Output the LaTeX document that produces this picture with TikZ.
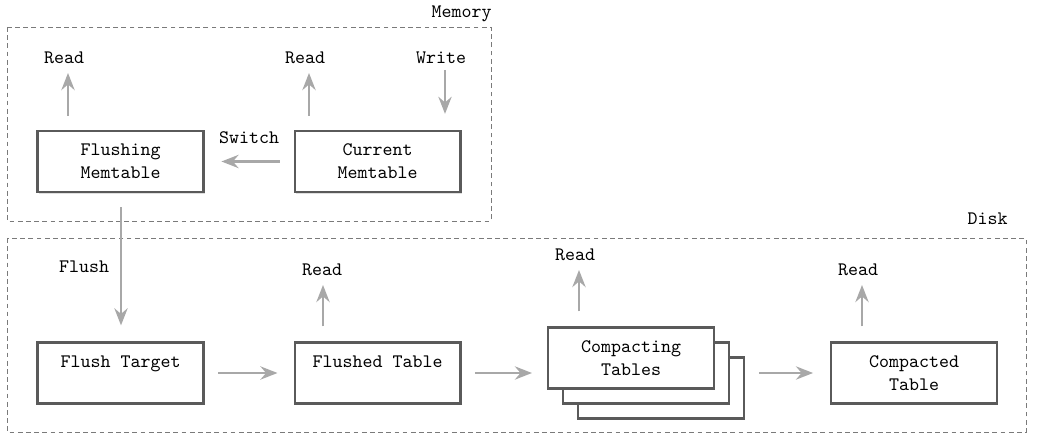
\documentclass[tikz,border=0pt]{standalone}
\usetikzlibrary{arrows.meta,shadows}
\definecolor{boxgray}{HTML}{5A5A5A}
\definecolor{arrgray}{HTML}{A8A8A8}
\definecolor{regiongray}{HTML}{7A7A7A}
\begin{document}
\begin{tikzpicture}[x=0.525pt,y=-0.525pt,
  font=\ttfamily,
  box/.style={draw=boxgray, line width=1.2pt, fill=white, minimum width=87pt, minimum height=32pt, align=center, inner sep=0pt,
    drop shadow={shadow xshift=0.8pt, shadow yshift=-0.9pt, opacity=0.25}},
  arr/.style={draw=arrgray, line width=1.1pt, -{Stealth[length=9pt,width=7pt,inset=3pt]}},
  region/.style={draw=regiongray, line width=0.5pt, dash pattern=on 2.5pt off 1.8pt},
  lbl/.style={inner sep=0pt}]
\useasboundingbox (0,0) rectangle (1050,446);

% regions
\draw[region] (7,27) rectangle (491,221);
\draw[region] (7,238) rectangle (1026,432);
\node[lbl, anchor=east] (memlbl) at (492,14) {Memory};
\node[lbl, anchor=east] (disklbl) at (1008,219) {Disk};

% memory nodes
\node[box] (fm) at (120.5,161.5) {Flushing\\Memtable};
\node[box] (cm) at (377.5,161.5) {Current\\Memtable};

% disk nodes
\node[box] (ft) at (120.5,373) {Flush Target\\\mbox{}};
\node[box] (fd) at (377.5,373) {Flushed Table\\\mbox{}};
\node[box] (ct3) at (661,388) {};
\node[box] (ct2) at (646,373) {};
\node[box] (ct1) at (631,358) {Compacting\\Tables};
\node[box] (ctd) at (914,373) {Compacted\\Table};

% labels
\node[lbl] (r1) at (64,58) {Read};
\node[lbl] (r2) at (305,58) {Read};
\node[lbl] (wr) at (441,58) {Write};
\node[lbl] (sw) at (249,138) {Switch};
\node[lbl] (fl) at (84,267) {Flush};
\node[lbl] (r3) at (322,270) {Read};
\node[lbl] (r4) at (575,255) {Read};
\node[lbl] (r5) at (858,270) {Read};

% arrows
\coordinate (a1) at (68,73);
\draw[arr, shorten <=7.3pt] (fm.north -| a1) -- (a1);
\coordinate (a2) at (309,73);
\draw[arr, shorten <=7.3pt] (cm.north -| a2) -- (a2);
\coordinate (w) at (445,70);
\draw[arr, shorten >=8.4pt] (w) -- (cm.north -| w);
\draw[arr, shorten <=7.3pt, shorten >=8.9pt] (cm.west) -- (fm.east);
\coordinate (fx) at (121,0);
\draw[arr, shorten <=7.3pt, shorten >=8.4pt] (fm.south -| fx) -- (ft.north -| fx);
\draw[arr, shorten <=7.3pt, shorten >=8.4pt] (ft.east) -- (fd.west);
\coordinate (a3) at (323,285);
\draw[arr, shorten <=7.9pt] (fd.north -| a3) -- (a3);
\draw[arr, shorten <=7pt, shorten >=7.9pt] (fd.east) -- (fd.east -| ct1.west);
\coordinate (a4) at (579,270);
\draw[arr, shorten <=7.9pt] (ct1.north -| a4) -- (a4);
\draw[arr, shorten <=7.3pt, shorten >=8.9pt] (ct3.east |- ctd.west) -- (ctd.west);
\coordinate (a5) at (862,285);
\draw[arr, shorten <=7.9pt] (ctd.north -| a5) -- (a5);
\end{tikzpicture}
\end{document}
